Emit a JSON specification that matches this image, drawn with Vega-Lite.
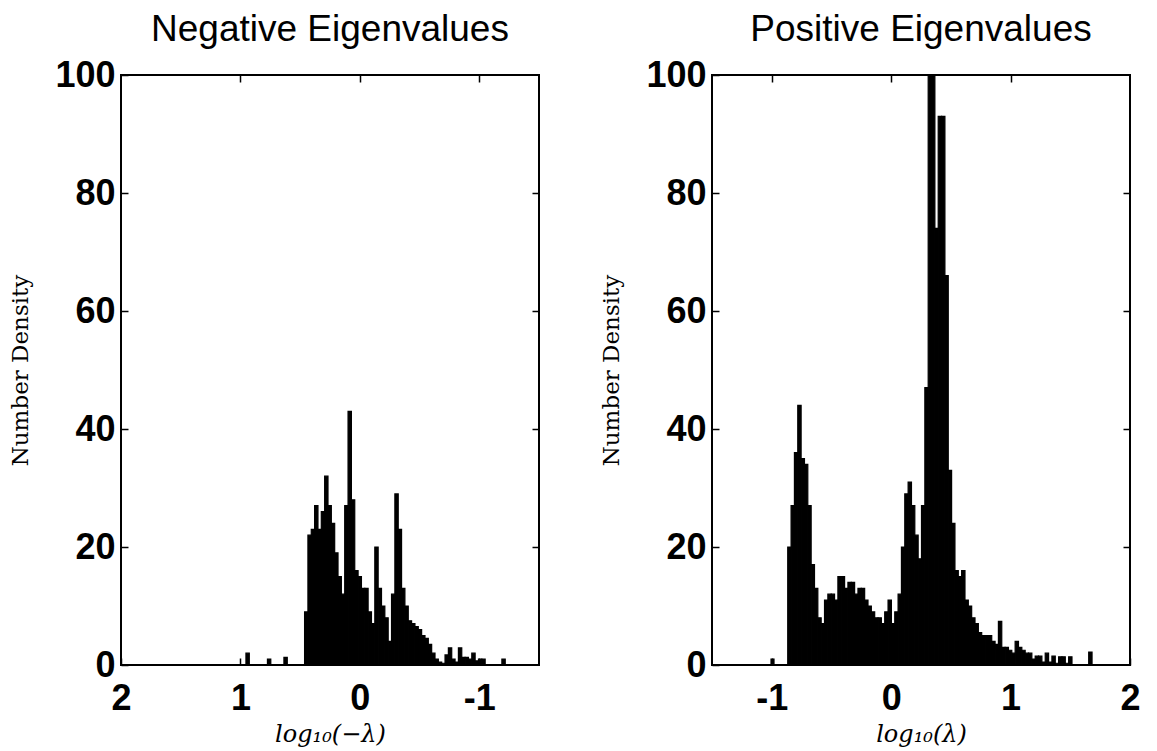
{
  "$schema": "https://vega.github.io/schema/vega-lite/v6.json",
  "background": "white",
  "padding": {"left": 8, "top": 10, "right": 5, "bottom": 2},
  "spacing": 58,
  "datasets": {
    "neg": [
      {"x0": 0.930, "x1": 0.958, "h": 2},
      {"x0": 0.750, "x1": 0.778, "h": 1},
      {"x0": 0.612, "x1": 0.640, "h": 1.3},
      {"x0": 0.439, "x1": 0.467, "h": 9},
      {"x0": 0.411, "x1": 0.439, "h": 22},
      {"x0": 0.383, "x1": 0.411, "h": 23},
      {"x0": 0.355, "x1": 0.383, "h": 27},
      {"x0": 0.327, "x1": 0.355, "h": 23},
      {"x0": 0.299, "x1": 0.327, "h": 26},
      {"x0": 0.271, "x1": 0.299, "h": 32},
      {"x0": 0.243, "x1": 0.271, "h": 27},
      {"x0": 0.215, "x1": 0.243, "h": 24},
      {"x0": 0.187, "x1": 0.215, "h": 19},
      {"x0": 0.159, "x1": 0.187, "h": 15},
      {"x0": 0.131, "x1": 0.159, "h": 12},
      {"x0": 0.103, "x1": 0.131, "h": 27},
      {"x0": 0.075, "x1": 0.103, "h": 43},
      {"x0": 0.047, "x1": 0.075, "h": 28},
      {"x0": 0.019, "x1": 0.047, "h": 16},
      {"x0": -0.009, "x1": 0.019, "h": 15},
      {"x0": -0.037, "x1": -0.009, "h": 13},
      {"x0": -0.065, "x1": -0.037, "h": 13},
      {"x0": -0.093, "x1": -0.065, "h": 9},
      {"x0": -0.121, "x1": -0.093, "h": 7},
      {"x0": -0.149, "x1": -0.121, "h": 20},
      {"x0": -0.177, "x1": -0.149, "h": 13},
      {"x0": -0.205, "x1": -0.177, "h": 10},
      {"x0": -0.233, "x1": -0.205, "h": 8},
      {"x0": -0.261, "x1": -0.233, "h": 4},
      {"x0": -0.289, "x1": -0.261, "h": 12},
      {"x0": -0.317, "x1": -0.289, "h": 29},
      {"x0": -0.345, "x1": -0.317, "h": 23},
      {"x0": -0.373, "x1": -0.345, "h": 13},
      {"x0": -0.401, "x1": -0.373, "h": 10},
      {"x0": -0.429, "x1": -0.401, "h": 7.5},
      {"x0": -0.457, "x1": -0.429, "h": 7},
      {"x0": -0.485, "x1": -0.457, "h": 6.5},
      {"x0": -0.513, "x1": -0.485, "h": 6},
      {"x0": -0.541, "x1": -0.513, "h": 5},
      {"x0": -0.569, "x1": -0.541, "h": 4.5},
      {"x0": -0.597, "x1": -0.569, "h": 3.5},
      {"x0": -0.625, "x1": -0.597, "h": 2},
      {"x0": -0.653, "x1": -0.625, "h": 1},
      {"x0": -0.681, "x1": -0.653, "h": 0.5},
      {"x0": -0.709, "x1": -0.681, "h": 0.3},
      {"x0": -0.737, "x1": -0.709, "h": 1.7},
      {"x0": -0.765, "x1": -0.737, "h": 2.9},
      {"x0": -0.793, "x1": -0.765, "h": 1},
      {"x0": -0.821, "x1": -0.793, "h": 0.5},
      {"x0": -0.849, "x1": -0.821, "h": 2.9},
      {"x0": -0.877, "x1": -0.849, "h": 1.3},
      {"x0": -0.905, "x1": -0.877, "h": 1.3},
      {"x0": -0.933, "x1": -0.905, "h": 1},
      {"x0": -0.961, "x1": -0.933, "h": 2},
      {"x0": -0.989, "x1": -0.961, "h": 0.7},
      {"x0": -1.017, "x1": -0.989, "h": 1},
      {"x0": -1.045, "x1": -1.017, "h": 1},
      {"x0": -1.213, "x1": -1.185, "h": 1}
    ],
    "pos": [
      {"x0": -1.010, "x1": -0.985, "h": 1},
      {"x0": -0.870, "x1": -0.842, "h": 20},
      {"x0": -0.842, "x1": -0.814, "h": 27},
      {"x0": -0.814, "x1": -0.786, "h": 36},
      {"x0": -0.786, "x1": -0.758, "h": 44},
      {"x0": -0.758, "x1": -0.730, "h": 35},
      {"x0": -0.730, "x1": -0.702, "h": 34},
      {"x0": -0.702, "x1": -0.674, "h": 27},
      {"x0": -0.674, "x1": -0.646, "h": 17},
      {"x0": -0.646, "x1": -0.618, "h": 13},
      {"x0": -0.618, "x1": -0.590, "h": 8},
      {"x0": -0.590, "x1": -0.562, "h": 7},
      {"x0": -0.562, "x1": -0.534, "h": 11},
      {"x0": -0.534, "x1": -0.506, "h": 12},
      {"x0": -0.506, "x1": -0.478, "h": 12},
      {"x0": -0.478, "x1": -0.450, "h": 11},
      {"x0": -0.450, "x1": -0.422, "h": 15},
      {"x0": -0.422, "x1": -0.394, "h": 15},
      {"x0": -0.394, "x1": -0.366, "h": 13},
      {"x0": -0.366, "x1": -0.338, "h": 14},
      {"x0": -0.338, "x1": -0.310, "h": 14},
      {"x0": -0.310, "x1": -0.282, "h": 12},
      {"x0": -0.282, "x1": -0.254, "h": 13},
      {"x0": -0.254, "x1": -0.226, "h": 13},
      {"x0": -0.226, "x1": -0.198, "h": 11},
      {"x0": -0.198, "x1": -0.170, "h": 10},
      {"x0": -0.170, "x1": -0.142, "h": 9},
      {"x0": -0.142, "x1": -0.114, "h": 8},
      {"x0": -0.114, "x1": -0.086, "h": 8},
      {"x0": -0.086, "x1": -0.058, "h": 7},
      {"x0": -0.058, "x1": -0.030, "h": 9},
      {"x0": -0.030, "x1": -0.002, "h": 11},
      {"x0": -0.002, "x1": 0.026, "h": 7},
      {"x0": 0.026, "x1": 0.054, "h": 9},
      {"x0": 0.054, "x1": 0.082, "h": 12},
      {"x0": 0.082, "x1": 0.110, "h": 20},
      {"x0": 0.110, "x1": 0.138, "h": 29},
      {"x0": 0.138, "x1": 0.166, "h": 31},
      {"x0": 0.166, "x1": 0.194, "h": 27},
      {"x0": 0.194, "x1": 0.222, "h": 22},
      {"x0": 0.222, "x1": 0.250, "h": 18},
      {"x0": 0.250, "x1": 0.278, "h": 27},
      {"x0": 0.278, "x1": 0.306, "h": 47},
      {"x0": 0.306, "x1": 0.334, "h": 100},
      {"x0": 0.334, "x1": 0.362, "h": 100},
      {"x0": 0.362, "x1": 0.390, "h": 74},
      {"x0": 0.390, "x1": 0.418, "h": 93},
      {"x0": 0.418, "x1": 0.446, "h": 93},
      {"x0": 0.446, "x1": 0.474, "h": 66},
      {"x0": 0.474, "x1": 0.502, "h": 33},
      {"x0": 0.502, "x1": 0.530, "h": 24},
      {"x0": 0.530, "x1": 0.558, "h": 16},
      {"x0": 0.558, "x1": 0.586, "h": 15},
      {"x0": 0.586, "x1": 0.614, "h": 16},
      {"x0": 0.614, "x1": 0.642, "h": 11},
      {"x0": 0.642, "x1": 0.670, "h": 10},
      {"x0": 0.670, "x1": 0.698, "h": 8},
      {"x0": 0.698, "x1": 0.726, "h": 7},
      {"x0": 0.726, "x1": 0.754, "h": 5.5},
      {"x0": 0.754, "x1": 0.782, "h": 5},
      {"x0": 0.782, "x1": 0.810, "h": 5},
      {"x0": 0.810, "x1": 0.838, "h": 5},
      {"x0": 0.838, "x1": 0.866, "h": 4},
      {"x0": 0.866, "x1": 0.894, "h": 3.5},
      {"x0": 0.894, "x1": 0.922, "h": 7.4},
      {"x0": 0.922, "x1": 0.950, "h": 3},
      {"x0": 0.950, "x1": 0.978, "h": 3},
      {"x0": 0.978, "x1": 1.006, "h": 2.5},
      {"x0": 1.006, "x1": 1.034, "h": 2},
      {"x0": 1.034, "x1": 1.062, "h": 4},
      {"x0": 1.062, "x1": 1.090, "h": 3},
      {"x0": 1.090, "x1": 1.118, "h": 2.5},
      {"x0": 1.118, "x1": 1.146, "h": 2},
      {"x0": 1.146, "x1": 1.174, "h": 2},
      {"x0": 1.174, "x1": 1.202, "h": 1},
      {"x0": 1.202, "x1": 1.230, "h": 1.5},
      {"x0": 1.230, "x1": 1.258, "h": 1.5},
      {"x0": 1.258, "x1": 1.286, "h": 0.5},
      {"x0": 1.286, "x1": 1.314, "h": 2},
      {"x0": 1.314, "x1": 1.342, "h": 0.5},
      {"x0": 1.342, "x1": 1.370, "h": 1.5},
      {"x0": 1.370, "x1": 1.398, "h": 0.3},
      {"x0": 1.398, "x1": 1.426, "h": 1.4},
      {"x0": 1.426, "x1": 1.454, "h": 1.4},
      {"x0": 1.454, "x1": 1.482, "h": 0.3},
      {"x0": 1.482, "x1": 1.510, "h": 1.4},
      {"x0": 1.650, "x1": 1.678, "h": 2.2}
    ]
  },
  "config": {
    "view": {"stroke": "black", "strokeWidth": 2},
    "bar": {"binSpacing": 0},
    "axis": {
      "grid": false,
      "domain": false,
      "tickColor": "black",
      "tickSize": -7,
      "tickWidth": 1.5,
      "labelFont": "Liberation Sans",
      "labelFontSize": 36,
      "labelFontWeight": "bold",
      "labelColor": "black",
      "labelFlush": false,
      "labelOverlap": false,
      "labelBound": false,
      "titleFont": "DejaVu Serif",
      "titleFontWeight": "normal",
      "titleColor": "black"
    },
    "title": {"font": "Liberation Sans", "fontSize": 37, "fontWeight": "normal", "color": "black", "anchor": "middle", "offset": 8}
  },
  "hconcat": [
    {
      "width": 418,
      "height": 590,
      "title": {"text": "Negative Eigenvalues"},
      "data": {"name": "neg"},
      "layer": [
        {
          "mark": {"type": "bar", "color": "black", "stroke": "black", "strokeWidth": 1.2},
          "encoding": {
            "x": {"field": "x0", "type": "quantitative", "bin": "binned",
              "scale": {"domain": [-1.5, 2], "reverse": true, "nice": false, "zero": false},
              "axis": {"values": [2, 1, 0, -1], "labelExpr": "'' + datum.value", "labelPadding": 23,
                "title": "log₁₀(−λ)", "titleFontStyle": "italic", "titleFontSize": 24, "titlePadding": 6}},
            "x2": {"field": "x1"},
            "y": {"field": "h", "type": "quantitative",
              "scale": {"domain": [0, 100], "nice": false},
              "axis": {"values": [0, 20, 40, 60, 80, 100], "labelPadding": 13,
                "title": "Number Density", "titleFontSize": 23, "titlePadding": 22}}
          }
        },
        {
          "mark": {"type": "point", "opacity": 0},
          "encoding": {
            "x": {"field": "x0", "type": "quantitative", "axis": {"orient": "top", "values": [1, 0, -1], "labels": false, "title": null}},
            "y": {"field": "h", "type": "quantitative", "axis": {"orient": "right", "values": [20, 40, 60, 80], "labels": false, "title": null}}
          }
        }
      ],
      "resolve": {"axis": {"x": "independent", "y": "independent"}}
    },
    {
      "width": 418,
      "height": 590,
      "title": {"text": "Positive Eigenvalues"},
      "data": {"name": "pos"},
      "layer": [
        {
          "mark": {"type": "bar", "color": "black", "stroke": "black", "strokeWidth": 1.2},
          "encoding": {
            "x": {"field": "x0", "type": "quantitative", "bin": "binned",
              "scale": {"domain": [-1.5, 2], "nice": false, "zero": false},
              "axis": {"values": [-1, 0, 1, 2], "labelExpr": "'' + datum.value", "labelPadding": 23,
                "title": "log₁₀(λ)", "titleFontStyle": "italic", "titleFontSize": 24, "titlePadding": 6}},
            "x2": {"field": "x1"},
            "y": {"field": "h", "type": "quantitative",
              "scale": {"domain": [0, 100], "nice": false},
              "axis": {"values": [0, 20, 40, 60, 80, 100], "labelPadding": 13,
                "title": "Number Density", "titleFontSize": 23, "titlePadding": 22}}
          }
        },
        {
          "mark": {"type": "point", "opacity": 0},
          "encoding": {
            "x": {"field": "x0", "type": "quantitative", "axis": {"orient": "top", "values": [-1, 0, 1], "labels": false, "title": null}},
            "y": {"field": "h", "type": "quantitative", "axis": {"orient": "right", "values": [20, 40, 60, 80], "labels": false, "title": null}}
          }
        }
      ],
      "resolve": {"axis": {"x": "independent", "y": "independent"}}
    }
  ]
}
